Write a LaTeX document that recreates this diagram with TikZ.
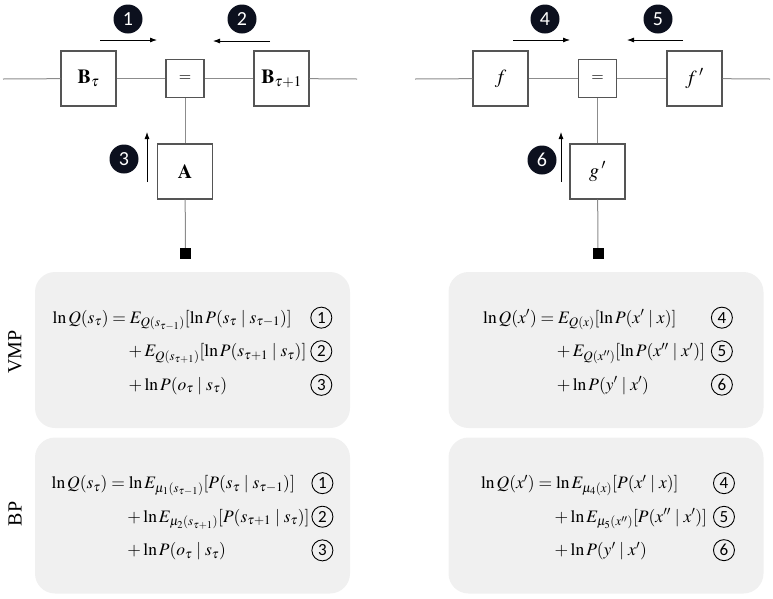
\documentclass[tikz,border=0pt]{standalone}
\usepackage{amsmath}
\usepackage{mathptmx}
\usepackage[no-math]{fontspec}
\setmainfont{Liberation Serif}
\newfontfamily\calib{Carlito}
\usetikzlibrary{arrows.meta}
\definecolor{wiregray}{RGB}{140,140,140}
\definecolor{boxgray}{RGB}{85,85,85}
\definecolor{panelgray}{RGB}{240,240,240}
\definecolor{numfill}{RGB}{12,16,30}
\newcommand\cnum[1]{\tikz[baseline=(c.base)]\node[circle,draw,fill=none,line width=.9pt,inner sep=0pt,minimum size=21pt,font=\calib\fontsize{17}{17}\selectfont](c){#1};}
\tikzstyle{fac}=[draw=boxgray,line width=1.2pt,minimum size=55pt,inner sep=0pt,font=\fontsize{20}{20}\selectfont]
\tikzstyle{eqbox}=[fac,minimum size=38pt,font=\fontsize{16}{16}\selectfont]
\tikzstyle{obs}=[fill=black,minimum size=11pt,inner sep=0pt]
\tikzstyle{num}=[circle,fill=numfill,text=white,minimum size=29pt,inner sep=0pt,font=\calib\fontsize{20}{20}\selectfont]
\tikzstyle{wire}=[draw=wiregray,line width=1pt]
\tikzstyle{msg}=[line width=.8pt,-{Latex[length=7pt,width=5pt]}]
\tikzstyle{pnl}=[fill=panelgray,rounded corners=20pt,minimum width=315pt,minimum height=156pt,font=\fontsize{17.5}{21}\selectfont]
\tikzstyle{side}=[rotate=90,font=\fontsize{20}{20}\selectfont]

\begin{document}
\begin{tikzpicture}[x=1pt,y=-1pt]
\useasboundingbox (0,0) rectangle (773,598);
% left factor graph
\node[fac] (Bt) at (88.5,78.5) {$\mathbf{B}_\tau$};
\node[eqbox] (eqL) at (185,78.5) {$=$};
\node[fac] (Bt1) at (281.5,78.5) {$\mathbf{B}_{\tau+1}$};
\node[fac] (A) at (185,171.5) {$\mathbf{A}$};
\node[obs] (oL) at (185.5,253.5) {};
\coordinate (inL) at (3,79);
\coordinate (outL) at (357,79);
\draw[wire] (inL) -- (Bt);
\draw[wire] (Bt) -- (eqL);
\draw[wire] (eqL) -- (Bt1);
\draw[wire] (Bt1) -- (outL);
\draw[wire] (eqL) -- (A);
\draw[wire] (A) -- (oL);
\node[num] (n1) at (128,19) {1};
\node[num] (n2) at (242,19) {2};
\node[num] (n3) at (124,159) {3};
\coordinate (m1a) at (100,40); \coordinate (m1b) at (157,40);
\coordinate (m2a) at (270,41); \coordinate (m2b) at (213,41);
\coordinate (m3a) at (147,182); \coordinate (m3b) at (147,132);
\draw[msg] (m1a) -- (m1b);
\draw[msg] (m2a) -- (m2b);
\draw[msg] (m3a) -- (m3b);
% right factor graph
\node[fac] (f) at (500.5,78.5) {$f$};
\node[eqbox] (eqR) at (597.5,78.5) {$=$};
\node[fac] (f1) at (694.5,78.5) {$f\,'$};
\node[fac] (g1) at (597.5,171.5) {$g\,'$};
\node[obs] (oR) at (598,253.5) {};
\coordinate (inR) at (415,79);
\coordinate (outR) at (770,79);
\draw[wire] (inR) -- (f);
\draw[wire] (f) -- (eqR);
\draw[wire] (eqR) -- (f1);
\draw[wire] (f1) -- (outR);
\draw[wire] (eqR) -- (g1);
\draw[wire] (g1) -- (oR);
\node[num] (n4) at (545,19) {4};
\node[num] (n5) at (658,19) {5};
\node[num] (n6) at (542,160) {6};
\coordinate (m4a) at (513,40); \coordinate (m4b) at (570,40);
\coordinate (m5a) at (683,40); \coordinate (m5b) at (627,40);
\coordinate (m6a) at (561,182); \coordinate (m6b) at (561,132);
\draw[msg] (m4a) -- (m4b);
\draw[msg] (m5a) -- (m5b);
\draw[msg] (m6a) -- (m6b);
% update equations
\node[side] (vmp) at (15,352) {VMP};
\node[side] (bp) at (15,514) {BP};
\node[pnl] (vmpL) at (192.5,350) {\def\arraystretch{1.6}$\begin{array}{@{}r@{}l@{\hspace{4pt}}c@{}}
  \ln Q(s_\tau) &{}= E_{Q(s_{\tau-1})}[\ln P(s_\tau \mid s_{\tau-1})] & \cnum{1}\\
  &\quad{}+ E_{Q(s_{\tau+1})}[\ln P(s_{\tau+1} \mid s_\tau)] & \cnum{2}\\
  &\quad{}+ \ln P(o_\tau \mid s_\tau) & \cnum{3}
\end{array}$};
\node[pnl] (vmpR) at (606,350) {\hspace{4pt}\def\arraystretch{1.6}$\begin{array}{@{}r@{}l@{\hspace{6pt}}c@{}}
  \ln Q(x') &{}= E_{Q(x)}[\ln P(x' \mid x)] & \cnum{4}\\
  &\quad{}+ E_{Q(x'')}[\ln P(x'' \mid x')] & \cnum{5}\\
  &\quad{}+ \ln P(y' \mid x') & \cnum{6}
\end{array}$};
\node[pnl] (bpL) at (192.5,515.5) {\def\arraystretch{1.6}$\begin{array}{@{}r@{}l@{\hspace{2pt}}c@{}}
  \ln Q(s_\tau) &{}= \ln E_{\mu_1(s_{\tau-1})}[P(s_\tau \mid s_{\tau-1})] & \cnum{1}\\
  &\quad{}+ \ln E_{\mu_2(s_{\tau+1})}[P(s_{\tau+1} \mid s_\tau)] & \cnum{2}\\
  &\quad{}+ \ln P(o_\tau \mid s_\tau) & \cnum{3}
\end{array}$};
\node[pnl] (bpR) at (606,515.5) {\hspace{4pt}\def\arraystretch{1.6}$\begin{array}{@{}r@{}l@{\hspace{6pt}}c@{}}
  \ln Q(x') &{}= \ln E_{\mu_4(x)}[P(x' \mid x)] & \cnum{4}\\
  &\quad{}+ \ln E_{\mu_5(x'')}[P(x'' \mid x')] & \cnum{5}\\
  &\quad{}+ \ln P(y' \mid x') & \cnum{6}
\end{array}$};
\end{tikzpicture}
\end{document}
